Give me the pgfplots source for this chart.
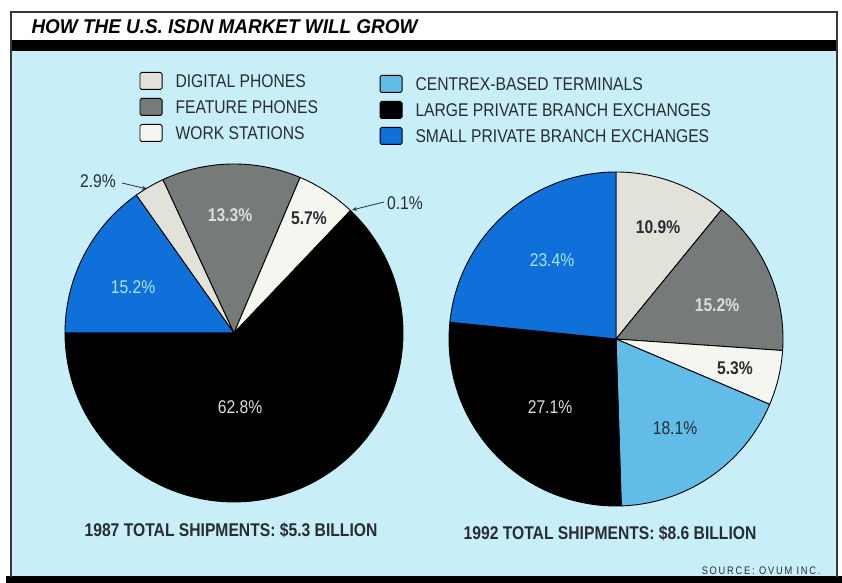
\documentclass[border=0pt]{standalone}
\usepackage{pgfplots}
\pgfplotsset{compat=1.18}
\usetikzlibrary{arrows.meta}
\usepackage{fontspec}
\setmainfont[FakeStretch=0.85]{Liberation Sans}
\newfontfamily\titlefont[FakeStretch=0.95]{Liberation Sans}

\definecolor{bgcyan}{RGB}{200,238,247}
\definecolor{smallpbx}{RGB}{15,112,218}
\definecolor{centrex}{RGB}{98,188,232}
\definecolor{feature}{RGB}{118,122,120}
\definecolor{digital}{RGB}{226,226,219}
\definecolor{workst}{RGB}{246,246,240}
\definecolor{framec}{RGB}{55,55,55}
\definecolor{darktxt}{RGB}{40,45,50}
\definecolor{lightcyantxt}{RGB}{175,228,245}
\definecolor{lighttxt}{RGB}{220,222,222}

\gdef\curang{0}
% \slice{cx}{cy}{r}{percent}{colour}: clockwise wedge from \curang
\newcommand\slice[5]{%
  \pgfmathsetmacro\endang{\curang-3.6*#4}%
  \edef\doslice{\noexpand\addplot[draw=black,line width=0.9pt,line join=round,fill=#5,domain=\endang:\curang,samples=90]
    ({#1+#3*cos(x)},{#2+#3*sin(x)}) -- (axis cs:#1,#2) -- cycle;}%
  \doslice
  \global\let\curang\endang
}

\begin{document}
\begin{tikzpicture}[x=1bp,y=1bp]
\useasboundingbox (0,0) rectangle (842,583);
% backgrounds and frame
\fill[white] (0,0) rectangle (842,583);
\fill[bgcyan] (11,6) rectangle (837,532);
\fill[black] (11,532) rectangle (837,543);
\fill[black] (6,0) rectangle (842,7);
\draw[framec,line width=1.4pt] (11,6) -- (11,571) -- (837,571) -- (837,6);
\node[anchor=west,font=\titlefont\fontsize{20}{23}\selectfont\bfseries\itshape] at (28,556) {HOW THE U.S. ISDN MARKET WILL GROW};

% legend
\begin{scope}[font=\fontsize{18.5}{21}\selectfont, text=darktxt]
\foreach \c/\t/\yy in {digital/DIGITAL PHONES/502, feature/FEATURE PHONES/476, workst/WORK STATIONS/450}{
  \draw[black,line width=1pt,fill=\c,rounded corners=1.5pt] (140,\yy-8.5) rectangle (162,\yy+8.5);
  \node[anchor=west] at (172,\yy) {\t};
}
\foreach \c/\t/\yy in {centrex/CENTREX-BASED TERMINALS/499, black/LARGE PRIVATE BRANCH EXCHANGES/473, smallpbx/SMALL PRIVATE BRANCH EXCHANGES/447}{
  \draw[black,line width=1pt,fill=\c,rounded corners=1.5pt] (380,\yy-8.5) rectangle (402,\yy+8.5);
  \node[anchor=west] at (412,\yy) {\t};
}
\end{scope}

\begin{axis}[at={(0,0)},anchor=south west,scale only axis,width=842bp,height=583bp,
  xmin=0,xmax=842,ymin=0,ymax=583,hide axis,clip=false]
% 1987 pie, clockwise from 180 degrees
\gdef\curang{180}
\slice{234}{250}{169}{15.2}{smallpbx}
\slice{234}{250}{169}{2.9}{digital}
\slice{234}{250}{169}{13.3}{feature}
\slice{234}{250}{169}{5.7}{workst}
\slice{234}{250}{169}{0.1}{centrex}
\slice{234}{250}{169}{62.8}{black}
% 1992 pie, clockwise from 90 degrees
\gdef\curang{90}
\slice{616}{244}{167}{10.9}{digital}
\slice{616}{244}{167}{15.2}{feature}
\slice{616}{244}{167}{5.3}{workst}
\slice{616}{244}{167}{18.1}{centrex}
\slice{616}{244}{167}{27.1}{black}
\slice{616}{244}{167}{23.4}{smallpbx}

% slice labels
\begin{scope}[every node/.style={font=\fontsize{18.5}{21}\selectfont}]
\node[text=darktxt] at (axis cs:98,402) {2.9\%};
\draw[darktxt,line width=0.8pt,-{Stealth[length=5pt,width=4pt]}] (axis cs:122,400) -- (axis cs:147,394);
\node[text=lighttxt,font=\fontsize{18.5}{21}\selectfont\bfseries] at (axis cs:230,368) {13.3\%};
\node[text=darktxt,font=\fontsize{18.5}{21}\selectfont\bfseries] at (axis cs:309,365) {5.7\%};
\node[text=darktxt] at (axis cs:405,380) {0.1\%};
\draw[darktxt,line width=0.8pt,-{Stealth[length=5pt,width=4pt]}] (axis cs:384,381) -- (axis cs:352,373);
\node[text=lightcyantxt] at (axis cs:133,296) {15.2\%};
\node[text=lighttxt] at (axis cs:240,176) {62.8\%};
\node[text=darktxt,font=\fontsize{18.5}{21}\selectfont\bfseries] at (axis cs:658,356) {10.9\%};
\node[text=lightcyantxt] at (axis cs:552,323) {23.4\%};
\node[text=lighttxt,font=\fontsize{18.5}{21}\selectfont\bfseries] at (axis cs:717,278) {15.2\%};
\node[text=darktxt,font=\fontsize{18.5}{21}\selectfont\bfseries] at (axis cs:735,215) {5.3\%};
\node[text=lighttxt] at (axis cs:550,176) {27.1\%};
\node[text=darktxt] at (axis cs:675,155) {18.1\%};
\end{scope}

% totals and source
\node[text=darktxt,font=\fontsize{18.5}{21}\selectfont\bfseries] at (axis cs:231,53) {1987 TOTAL SHIPMENTS: \$5.3 BILLION};
\node[text=darktxt,font=\fontsize{18.5}{21}\selectfont\bfseries] at (axis cs:610,50) {1992 TOTAL SHIPMENTS: \$8.6 BILLION};
\node[text=darktxt,anchor=east,font=\fontsize{11}{13}\selectfont\addfontfeature{LetterSpace=16}] at (axis cs:824,12) {SOURCE: OVUM INC.};
\end{axis}
\end{tikzpicture}
\end{document}
